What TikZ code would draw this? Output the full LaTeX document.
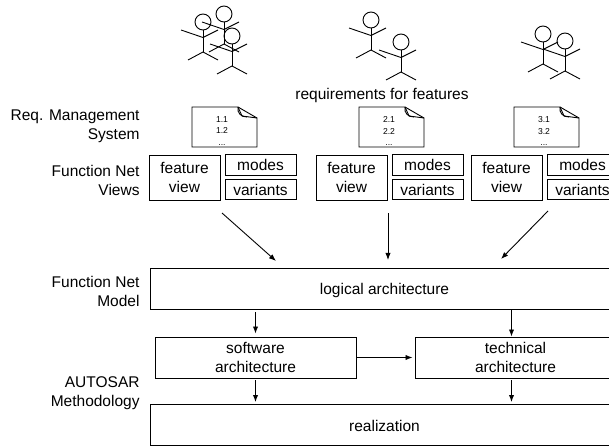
\documentclass[tikz,border=0pt]{standalone}
\usepackage{fontspec}
\setmainfont{Liberation Sans}
\usetikzlibrary{arrows.meta}
\usetikzlibrary{positioning}

\tikzset{
    person/.pic={
        \draw (0,0) circle (8);
        \draw (0,8) -- (0,30);
        \draw (-22,8) -- (0,15.5) -- (15,8);
        \draw (-15,38) -- (0,30) -- (15,38);
    },
    sheet/.pic={
        \draw (0,0) -- (46,0) -- (65,11) -- (65,40) -- (0,40) -- cycle;
        \draw (46,0) -- (50,9) -- (65,11);
        \draw (46,0) .. controls (45,6) and (49,10) .. (55,10);
    }
}

\begin{document}
\begin{tikzpicture}[
        x=1pt, y=-1pt,
        >=Latex,
        line width=0.9pt,
        font=\fontsize{15.5}{19}\selectfont,
        block/.style={
            rectangle,
            draw,
            inner sep=0pt,
            align=center,
        },
        viewbig/.style={block, minimum width=71pt, minimum height=45pt},
        viewsmall/.style={block, minimum width=71pt, minimum height=20.5pt},
        layer/.style={block, minimum width=469pt, minimum height=41pt, text height=15pt, text depth=3pt},
        midlayer/.style={block, minimum width=201pt, minimum height=41pt},
        side/.style={align=right, anchor=east, inner sep=0pt},
        numbers/.style={align=center, font=\fontsize{8.6}{11.5}\selectfont},
    ]

    \clip (0,0) rectangle (609,446);

    % people
    \pic at (203,22) {person};
    \pic at (224,14) {person};
    \pic at (232,36) {person};
    \pic at (371,20) {person};
    \pic at (401,42) {person};
    \pic at (543,34) {person};
    \pic at (565,41) {person};

    \node (req) at (382,95) {requirements for features};

    % requirement sheets
    \pic at (192,107) {sheet};
    \pic at (359,107) {sheet};
    \pic at (514,107) {sheet};
    \node (num1) at (222,131) [numbers] {1.1\\1.2\\...};
    \node (num2) at (389,131) [numbers] {2.1\\2.2\\...};
    \node (num3) at (544,131) [numbers] {3.1\\3.2\\...};

    % left labels
    \node (lreq) at (140,126) [side] {Req. Management\\System};
    \node (lviews) at (140,180.5) [side] {Function Net\\Views};
    \node (lmodel) at (140,291.5) [side] {Function Net\\Model};
    \node (lauto) at (140,393.5) [side] {AUTOSAR\\Methodology};

    % views
    \node (feature1) at (184.5,177.5) [viewbig] {feature\\view};
    \node (modes1) at (260.5,165) [viewsmall] {modes};
    \node (variants1) at (260.5,189.5) [viewsmall] {variants};
    \node (feature2) at (351.5,177.5) [viewbig] {feature\\view};
    \node (modes2) at (427.5,165) [viewsmall] {modes};
    \node (variants2) at (427.5,189.5) [viewsmall] {variants};
    \node (feature3) at (506.5,177.5) [viewbig] {feature\\view};
    \node (modes3) at (582.5,165) [viewsmall] {modes};
    \node (variants3) at (582.5,189.5) [viewsmall] {variants};

    % architecture
    \node (logical) at (384.5,288.5) [layer] {logical architecture};
    \node (software) at (255.5,357.5) [midlayer] {software\\architecture};
    \node (technical) at (515.5,357.5) [midlayer] {technical\\architecture};
    \node (realization) at (384.5,425) [layer] {realization};

    \coordinate (from1) at (222,213);
    \coordinate (to1) at (276,261);
    \coordinate (from2) at (388,213);
    \coordinate (to2) at (388,260);
    \coordinate (from3) at (548,211);
    \coordinate (to3) at (501,259);

    \draw [->] (from1) -- (to1);
    \draw [->] (from2) -- (to2);
    \draw [->] (from3) -- (to3);

    \draw [->, shorten <=3pt, shorten >=3pt] (logical.south -| software.north) -- (software.north);
    \draw [->, shorten <=1pt] ([xshift=-4pt]logical.south -| technical.north) -- ([xshift=-4pt]technical.north);
    \draw [->, shorten >=2pt] (software.east) -- (technical.west);
    \draw [->, shorten <=2pt, shorten >=2pt] (software.south) -- (software.south |- realization.north);
    \draw [->, shorten <=2pt, shorten >=2pt] ([xshift=-4pt]technical.south) -- ([xshift=-4pt]technical.south |- realization.north);

\end{tikzpicture}
\end{document}
